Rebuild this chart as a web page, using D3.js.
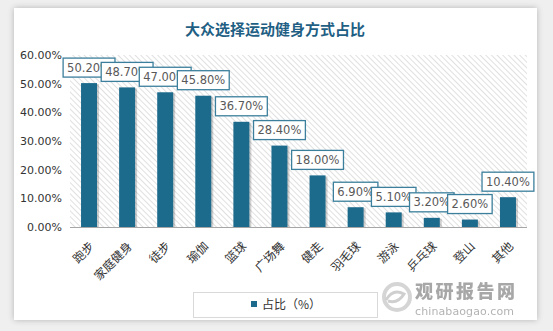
<!DOCTYPE html>
<html><head><meta charset="utf-8">
<script src="https://cdn.jsdelivr.net/npm/d3@7"></script>
<style>
html,body{margin:0;padding:0;background:#efefef;}
svg{display:block;}
</style></head>
<body>
<svg id="chart" width="553" height="331"></svg>
<script>
const categories = ["跑步","家庭健身","徒步","瑜伽","篮球","广场舞","健走","羽毛球","游泳","乒乓球","登山","其他"];
const values = [50.2,48.7,47.0,45.8,36.7,28.4,18.0,6.9,5.1,3.2,2.6,10.4];
const yTicks = [0,10,20,30,40,50,60];
const title = "大众选择运动健身方式占比";
const seriesName = "占比（%）";

const svg = d3.select("#chart");
const defs = svg.append("defs");
const f = defs.append("filter").attr("id","cardShadow").attr("x","-5%").attr("y","-5%").attr("width","110%").attr("height","110%");
f.append("feGaussianBlur").attr("in","SourceAlpha").attr("stdDeviation",3);
f.append("feOffset").attr("dx",0).attr("dy",0).attr("result","b");
f.append("feComponentTransfer").append("feFuncA").attr("type","linear").attr("slope",0.25);
const fm = f.append("feMerge"); fm.append("feMergeNode"); fm.append("feMergeNode").attr("in","SourceGraphic");

const pat = defs.append("pattern").attr("id","hatch").attr("patternUnits","userSpaceOnUse")
  .attr("width",4).attr("height",4).attr("patternTransform","rotate(-45)");
pat.append("rect").attr("width",4).attr("height",4).attr("fill","#ffffff");
pat.append("line").attr("x1",0).attr("y1",0).attr("x2",0).attr("y2",4).attr("stroke","#d9d9d9").attr("stroke-width",1.6);

// card
svg.append("rect").attr("x",14).attr("y",8).attr("width",523).attr("height",312)
  .attr("fill","#fff").attr("filter","url(#cardShadow)");

const x = d3.scaleBand().domain(categories).range([70,527]).paddingInner(0.58).paddingOuter(0.29);
const y = d3.scaleLinear().domain([0,60]).range([227,55]);

// plot background hatch
svg.append("rect").attr("x",70).attr("y",55).attr("width",457).attr("height",172).attr("fill","url(#hatch)");

// title
svg.append("text").attr("x",275).attr("y",35).attr("text-anchor","middle")
  .attr("font-family","'Noto Sans CJK SC',sans-serif").attr("font-weight",700).attr("font-size",15)
  .attr("fill","#1f5f84").text(title);

// y axis
const yAxis = d3.axisLeft(y).tickValues(yTicks).tickFormat(d=>d3.format(".2f")(d)+"%").tickSize(0).tickPadding(8);
const yg = svg.append("g").attr("transform","translate(70,0)").call(yAxis);
yg.select(".domain").remove();
yg.selectAll("text").attr("font-family","'DejaVu Sans',Verdana,sans-serif").attr("font-size",11).attr("fill","#333");

// bars shadow and bars
const bars = svg.append("g");
bars.selectAll("rect.sh").data(values).join("rect").attr("class","sh")
  .attr("x",(d,i)=>x(categories[i])+2).attr("y",d=>y(d)+1)
  .attr("width",x.bandwidth()).attr("height",d=>y(0)-y(d)-1).attr("fill","rgba(0,0,0,0.18)");
bars.selectAll("rect.b").data(values).join("rect").attr("class","b")
  .attr("x",(d,i)=>x(categories[i])).attr("y",d=>y(d))
  .attr("width",x.bandwidth()).attr("height",d=>y(0)-y(d)).attr("fill","#1c6a8c");

// x axis
const xAxis = d3.axisBottom(x).tickSize(0).tickPadding(0);
const xg = svg.append("g").attr("transform","translate(0,227)").call(xAxis);
xg.select(".domain").attr("stroke","#a6a6a6").attr("stroke-width",1.2).attr("d","M70,0.5H527");
xg.selectAll("text").attr("font-family","'Noto Sans CJK SC',sans-serif").attr("font-size",12).attr("fill","#333")
  .attr("text-anchor","end").attr("dy","0.35em")
  .attr("transform","translate(3,17) rotate(-45)");

// data labels
const lg = svg.append("g");
values.forEach((v,i)=>{
  const cx = x(categories[i]) + x.bandwidth()/2;
  const g = lg.append("g");
  const t = g.append("text").attr("x",cx).attr("y",y(v)-15.5).attr("text-anchor","middle").attr("dy","0.35em")
    .attr("font-family","'DejaVu Sans',Verdana,sans-serif").attr("font-size",11.5).attr("fill","#595959")
    .text(d3.format(".2f")(v)+"%");
  const w = t.node().getComputedTextLength() + 8;
  g.insert("rect","text").attr("x",cx-w/2).attr("y",y(v)-25).attr("width",w).attr("height",19)
    .attr("fill","#fff").attr("stroke","#3b7f9c").attr("stroke-width",1.3);
});

// legend
const leg = svg.append("g");
leg.append("rect").attr("x",193.5).attr("y",292.5).attr("width",184).attr("height",25)
  .attr("fill","#fff").attr("stroke","#d9d9d9");
leg.append("rect").attr("x",251).attr("y",301).attr("width",6).attr("height",6).attr("fill","#1c6a8c");
leg.append("text").attr("x",262).attr("y",305).attr("dy","0.35em")
  .attr("font-family","'Noto Sans CJK SC',sans-serif").attr("font-size",12).attr("fill","#333").text(seriesName);

// watermark
const wm = svg.append("g").attr("opacity",0.75);
wm.append("circle").attr("cx",397).attr("cy",297).attr("r",13).attr("fill","none").attr("stroke","#c8c8c8").attr("stroke-width",4);
wm.append("path").attr("d","M386,300 Q393,288 404,294 Q398,304 388,301").attr("fill","none").attr("stroke","#c0c0c0").attr("stroke-width",3);
wm.append("text").attr("x",415).attr("y",298).attr("font-family","'Noto Sans CJK SC',sans-serif").attr("font-weight",900)
  .attr("font-size",18).attr("fill","#8a8a8a").attr("textLength",100).text("观研报告网");
wm.append("text").attr("x",415).attr("y",315).attr("font-family","'DejaVu Sans',sans-serif")
  .attr("font-size",11).attr("fill","#999").attr("textLength",99).text("chinabaogao.com");
</script>
</body></html>
